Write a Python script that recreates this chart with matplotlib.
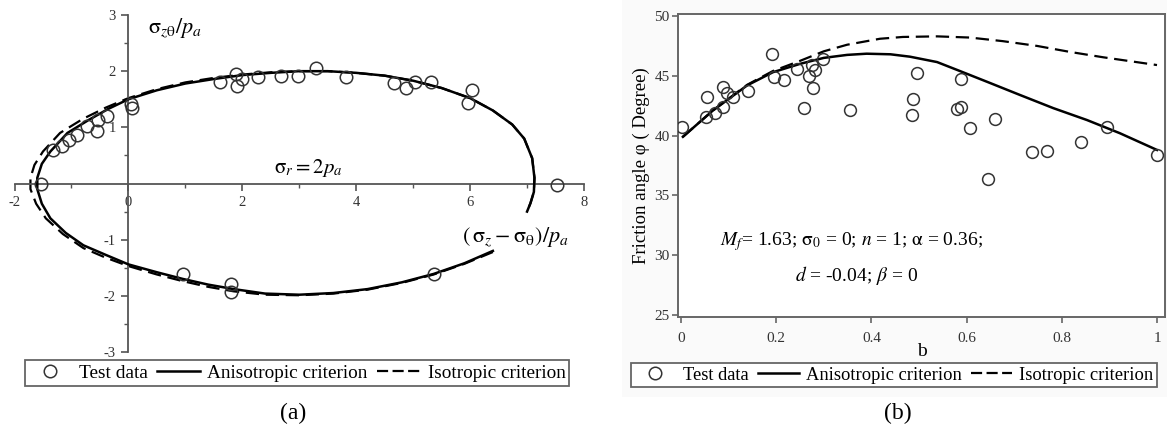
import matplotlib
matplotlib.use("Agg")
import matplotlib.pyplot as plt
from matplotlib.lines import Line2D

plt.rcParams['font.family'] = ['Liberation Serif', 'DejaVu Serif']
plt.rcParams['mathtext.fontset'] = 'stix'
plt.rcParams['axes.unicode_minus'] = False

# ---------------- Panel (a) data ----------------
a_test_x = [-1.54, -1.33, -1.17, -1.05, -0.91, -0.72, -0.56, -0.54, -0.37, 0.05, 0.07,
            1.61, 1.89, 1.91, 2.00, 2.28, 2.68, 2.97, 3.29, 3.82, 4.66, 4.88, 5.03, 5.31,
            6.04, 5.97, 7.53, 0.96, 1.80, 1.80, 5.36]
a_test_y = [0.00, 0.60, 0.66, 0.78, 0.87, 1.03, 0.94, 1.13, 1.20, 1.42, 1.35,
            1.81, 1.95, 1.74, 1.86, 1.89, 1.91, 1.91, 2.05, 1.89, 1.79, 1.70, 1.81, 1.81,
            1.67, 1.44, -0.03, -1.61, -1.79, -1.93, -1.61]

a_aniso_x = [6.40, 5.90, 5.36, 4.80, 4.20, 3.60, 3.00, 2.40, 1.85, 1.40, 0.96, 0.50, 0.00,
             -0.40, -0.79, -1.10, -1.37, -1.52, -1.60, -1.60, -1.52, -1.37, -1.07, -0.70,
             -0.35, 0.00, 0.50, 1.00, 1.50, 2.00, 2.50, 3.00, 3.50, 4.00, 4.50, 5.00, 5.50,
             6.00, 6.40, 6.74, 6.95, 7.09, 7.13, 7.12, 7.06, 7.00]
a_aniso_y = [-1.20, -1.42, -1.61, -1.76, -1.88, -1.95, -1.98, -1.96, -1.88, -1.80, -1.70,
             -1.58, -1.44, -1.27, -1.10, -0.88, -0.62, -0.36, -0.10, 0.10, 0.35, 0.57, 0.90,
             1.13, 1.33, 1.50, 1.66, 1.78, 1.86, 1.93, 1.97, 2.00, 2.00, 1.97, 1.92, 1.83,
             1.70, 1.52, 1.30, 1.05, 0.80, 0.45, 0.10, -0.15, -0.35, -0.50]

a_iso_x = [6.40, 5.90, 5.36, 4.80, 4.20, 3.60, 3.00, 2.40, 1.85, 1.40, 0.96, 0.50, 0.00,
           -0.40, -0.79, -1.15, -1.45, -1.62, -1.72, -1.72, -1.65, -1.50, -1.20, -0.80,
           -0.40, 0.00, 0.50, 1.00, 1.50, 2.00, 2.50, 3.00, 3.50, 4.00, 4.50, 5.00, 5.50,
           6.00, 6.40, 6.74, 6.95, 7.09, 7.13, 7.12, 7.06, 7.00]
a_iso_y = [-1.22, -1.43, -1.62, -1.77, -1.89, -1.96, -1.99, -1.98, -1.92, -1.84, -1.74,
           -1.62, -1.47, -1.32, -1.15, -0.90, -0.62, -0.36, -0.10, 0.10, 0.33, 0.57, 0.90,
           1.15, 1.35, 1.52, 1.68, 1.80, 1.88, 1.94, 1.98, 2.00, 2.00, 1.97, 1.92, 1.83,
           1.70, 1.52, 1.30, 1.05, 0.80, 0.45, 0.10, -0.15, -0.35, -0.50]

a_xticks = [-2, 0, 2, 4, 6, 8]
a_yticks = [-3, -2, -1, 1, 2, 3]

# ---------------- Panel (b) data ----------------
b_test_b = [0.002, 0.053, 0.054, 0.071, 0.088, 0.088, 0.096, 0.109, 0.141, 0.191, 0.196,
            0.216, 0.244, 0.258, 0.269, 0.275, 0.278, 0.282, 0.298, 0.355, 0.496, 0.487,
            0.485, 0.588, 0.580, 0.588, 0.607, 0.660, 0.645, 0.737, 0.769, 0.840, 0.895, 1.000]
b_test_phi = [40.7, 41.55, 43.2, 41.9, 42.4, 44.05, 43.6, 43.2, 43.7, 46.8, 44.9,
              44.65, 45.55, 42.3, 44.98, 45.9, 43.95, 45.5, 46.4, 42.14, 45.2, 43.05,
              41.7, 44.7, 42.2, 42.4, 40.6, 41.4, 36.35, 38.6, 38.7, 39.5, 40.7, 38.4]

b_aniso_b = [0.004, 0.067, 0.139, 0.193, 0.250, 0.300, 0.349, 0.390, 0.440, 0.481, 0.538,
             0.586, 0.643, 0.712, 0.782, 0.853, 0.922, 1.000]
b_aniso_phi = [39.9, 42.1, 44.2, 45.3, 46.0, 46.5, 46.75, 46.85, 46.8, 46.6, 46.15,
               45.4, 44.5, 43.4, 42.3, 41.3, 40.2, 38.8]

b_iso_b = [0.004, 0.067, 0.139, 0.193, 0.250, 0.300, 0.349, 0.418, 0.466, 0.538, 0.607,
           0.676, 0.748, 0.817, 0.887, 1.000]
b_iso_phi = [39.9, 42.1, 44.25, 45.4, 46.25, 47.05, 47.6, 48.1, 48.25, 48.3, 48.2,
             47.9, 47.5, 47.0, 46.55, 45.9]

b_xticks = [0, 0.2, 0.4, 0.6, 0.8, 1]
b_xticklabels = ['0', '0.2', '0.4', '0.6', '0.8', '1']
b_yticks = [25, 30, 35, 40, 45, 50]

legend_labels = ['Test data', 'Anisotropic criterion', 'Isotropic criterion']

W, H = 1167, 433
fig = plt.figure(figsize=(W / 100, H / 100), dpi=100)

AX_COL = '#555555'
MK_COL = '#333333'
DASH = (6, 3)

# faint grey backdrop of panel (b) as in the scan
fig.patches.append(plt.Rectangle((622 / W, 1 - 397 / H), (W - 622) / W, 397 / H,
                                 transform=fig.transFigure, facecolor='#fafafa',
                                 edgecolor='none', zorder=-10))

# ---------------- Panel (a) ----------------
ax1 = fig.add_axes([14.5 / W, 1 - 352 / H, (584 - 14.5) / W, (352 - 15) / H])
ax1.patch.set_alpha(0)
ax1.set_xlim(-2, 8)
ax1.set_ylim(-3, 3)
for s in ['top', 'right']:
    ax1.spines[s].set_visible(False)
ax1.spines['left'].set_position(('data', 0))
ax1.spines['bottom'].set_position(('data', 0))
for s in ['left', 'bottom']:
    ax1.spines[s].set_color(AX_COL)
    ax1.spines[s].set_linewidth(1.3)
ax1.set_xticks(a_xticks)
ax1.set_yticks(a_yticks)
ax1.set_xticks([-1, 1, 3, 5, 7], minor=True)
ax1.set_yticks([-2.5, -1.5, -0.5, 0.5, 1.5, 2.5], minor=True)
ax1.tick_params(which='major', length=5, width=1.2, color=AX_COL, labelsize=10.5,
                labelcolor='#333333', pad=4)
ax1.tick_params(which='minor', length=3, width=1.0, color=AX_COL)

ax1.plot(a_aniso_x, a_aniso_y, '-', color='black', lw=1.8, zorder=3)
ax1.plot(a_iso_x, a_iso_y, '--', color='black', lw=1.6, dashes=DASH, zorder=2)
ax1.plot(a_test_x, a_test_y, 'o', mfc='none', mec=MK_COL, ms=9, mew=1.1, zorder=4)

ax1.text(0.82, 2.77, r'$\mathrm{\sigma}_{z\mathrm{\theta}}/p_a$', fontsize=16,
         ha='center', va='center')
ax1.text(3.16, 0.28, r'$\mathrm{\sigma}_r = 2p_a$', fontsize=15, ha='center', va='center')
ax1.text(6.79, -0.95,
         r'$\left(\,\mathrm{\sigma}_z - \mathrm{\sigma}_{\mathrm{\theta}}\right)/p_a$',
         fontsize=16, ha='center', va='center')

# ---------------- Panel (b) ----------------
ax2 = fig.add_axes([678 / W, 1 - 317 / H, (1165 - 678) / W, (317 - 14) / H])
ax2.patch.set_facecolor('white')
ax2.set_xlim(-0.0063, 1.0168)
ax2.set_ylim(24.83, 50.17)
for s in ax2.spines.values():
    s.set_color('#666666')
    s.set_linewidth(1.4)
ax2.set_xticks(b_xticks)
ax2.set_xticklabels(b_xticklabels)
ax2.set_yticks(b_yticks)
ax2.tick_params(length=4.5, width=1.2, color='#666666', labelsize=11,
                labelcolor='#333333')
ax2.tick_params(axis='x', pad=6)
ax2.tick_params(axis='y', pad=1.5)

ax2.plot(b_aniso_b, b_aniso_phi, '-', color='black', lw=1.8, zorder=3)
ax2.plot(b_iso_b, b_iso_phi, '--', color='black', lw=1.6, dashes=DASH, zorder=2)
ax2.plot(b_test_b, b_test_phi, 'o', mfc='none', mec=MK_COL, ms=8.5, mew=1.1, zorder=4)

ax2.text(0.359, 31.1, r'$M_f$= 1.63; $\mathrm{\sigma}_0$ = 0; $n$ = 1; $\mathrm{\alpha}$ = 0.36;',
         fontsize=14, ha='center', va='center')
ax2.text(0.368, 28.26, r'$d$ = -0.04; $\beta$ = 0', fontsize=14, ha='center', va='center')

fig.text(922 / W, 1 - 352 / H, 'b', fontsize=14, ha='center', va='center')
fig.text(641 / W, 1 - 166 / H, 'Friction angle φ ( Degree)', fontsize=13.5,
         rotation=90, ha='center', va='center')

# ---------------- Legends ----------------
handles = [Line2D([], [], ls='none', marker='o', mfc='none', mec=MK_COL, ms=9, mew=1.1),
           Line2D([], [], ls='-', color='black', lw=1.8),
           Line2D([], [], ls='--', color='black', lw=1.6, dashes=(5, 2))]

for cx, cy, fs in [(297, 373, 13.9), (894, 375, 13.3)]:
    leg = fig.legend(handles, legend_labels, loc='center', ncol=3,
                     bbox_to_anchor=(cx / W, 1 - cy / H), bbox_transform=fig.transFigure,
                     fontsize=fs, frameon=True, fancybox=False, framealpha=1,
                     edgecolor='#666666', borderpad=0.2, handlelength=2.2,
                     handletextpad=0.4, columnspacing=0.5, borderaxespad=0)
    leg.get_frame().set_linewidth(1.3)

fig.text(293 / W, 1 - 413 / H, '(a)', fontsize=17, ha='center', va='center')
fig.text(898 / W, 1 - 413 / H, '(b)', fontsize=17, ha='center', va='center')

fig.savefig('out.png', dpi=100)
